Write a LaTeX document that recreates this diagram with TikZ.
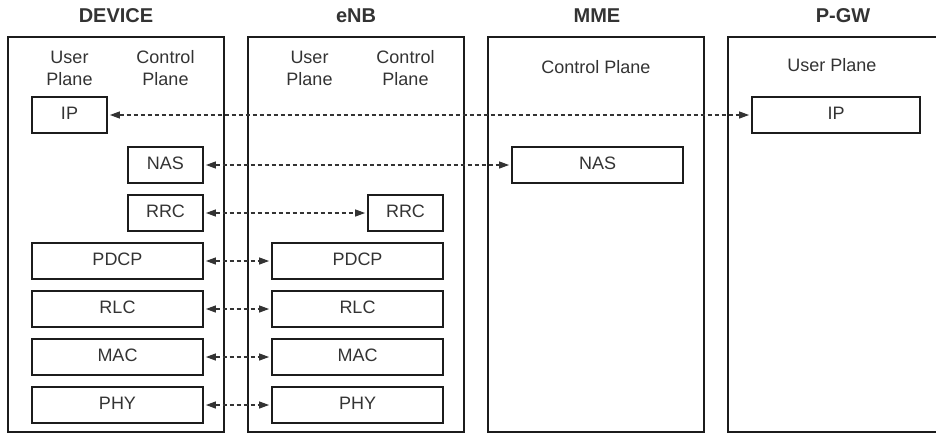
\documentclass[tikz,border=0pt]{standalone}
\usepackage{fontspec}
\setmainfont{Liberation Sans}
\usetikzlibrary{arrows.meta}
\definecolor{ink}{HTML}{333333}
\definecolor{edge}{HTML}{1C1C1C}
\begin{document}
\begin{tikzpicture}[x=1pt,y=-1pt,
  title/.style={text=ink, font=\fontsize{20}{24}\selectfont\bfseries, inner sep=0},
  plane/.style={text=ink, font=\fontsize{18}{22}\selectfont, align=center, inner sep=0},
  panel/.style={draw=edge, line width=1.8pt, minimum width=216pt, minimum height=395pt, inner sep=0},
  layer/.style={draw=edge, line width=1.8pt, text=ink, font=\fontsize{18}{22}\selectfont,
                inner sep=0, minimum height=36pt, text height=13pt, text depth=4pt},
  short/.style={layer, minimum width=75pt},
  wide/.style={layer, minimum width=171pt},
  link/.style={draw=ink, line width=1.2pt, dash pattern=on 4pt off 3pt,
               {Triangle[length=10pt,width=7pt]}-{Triangle[length=10pt,width=7pt]},
               shorten <=2pt, shorten >=2pt}]
\clip (0,0) rectangle (936,434);

% entity titles
\node[title] (tDev) at (116,16) {DEVICE};
\node[title] (tEnb) at (356,16) {eNB};
\node[title] (tMme) at (597,16) {MME};
\node[title] (tGw)  at (843,16) {P-GW};

% entity frames (the P-GW frame runs past the right edge)
\node[panel] (dev) at (116,234.5) {};
\node[panel] (enb) at (356,234.5) {};
\node[panel] (mme) at (596,234.5) {};
\node[panel] (gw)  at (836,234.5) {};

% plane captions
\node[plane] (devUP) at (69.5,68)  {User\\Plane};
\node[plane] (devCP) at (165.5,68) {Control\\Plane};
\node[plane] (enbUP) at (309.5,68) {User\\Plane};
\node[plane] (enbCP) at (405.5,68) {Control\\Plane};
\node[plane] (mmeCP) at (596,67)   {Control Plane};
\node[plane] (gwUP)  at (832,65)   {User Plane};

% device stack
\node[short] (devIP)   at (69.5,115)  {IP};
\node[short] (devNAS)  at (165.5,165) {NAS};
\node[short] (devRRC)  at (165.5,213) {RRC};
\node[wide]  (devPDCP) at (117.5,261) {PDCP};
\node[wide]  (devRLC)  at (117.5,309) {RLC};
\node[wide]  (devMAC)  at (117.5,357) {MAC};
\node[wide]  (devPHY)  at (117.5,405) {PHY};

% eNB stack
\node[short] (enbRRC)  at (405.5,213) {RRC};
\node[wide]  (enbPDCP) at (357.5,261) {PDCP};
\node[wide]  (enbRLC)  at (357.5,309) {RLC};
\node[wide]  (enbMAC)  at (357.5,357) {MAC};
\node[wide]  (enbPHY)  at (357.5,405) {PHY};

% MME and P-GW
\node[wide]  (mmeNAS) at (597.5,165) {NAS};
\node[layer, minimum width=168pt] (gwIP) at (836,115) {IP};

% peer-to-peer links
\draw[link] (devIP.east)   -- (gwIP.west);
\draw[link] (devNAS.east)  -- (mmeNAS.west);
\draw[link] (devRRC.east)  -- (enbRRC.west);
\draw[link] (devPDCP.east) -- (enbPDCP.west);
\draw[link] (devRLC.east)  -- (enbRLC.west);
\draw[link] (devMAC.east)  -- (enbMAC.west);
\draw[link] (devPHY.east)  -- (enbPHY.west);
\end{tikzpicture}
\end{document}
